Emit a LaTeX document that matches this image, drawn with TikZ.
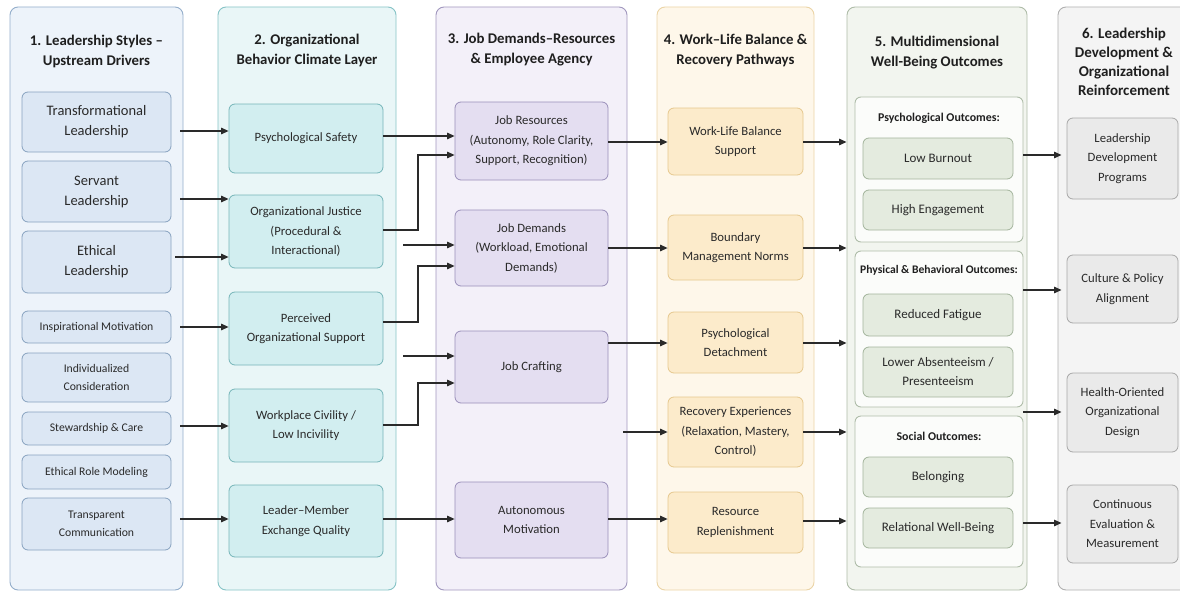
\documentclass[tikz,border=0pt]{standalone}
\usepackage{fontspec}
\setmainfont{Carlito}
\usetikzlibrary{arrows.meta}
\definecolor{txt}{HTML}{2A2A2A}
\definecolor{linec}{HTML}{2A2A2A}
\definecolor{p1f}{HTML}{EDF3FA}\definecolor{p1d}{HTML}{94AECB}
\definecolor{b1f}{HTML}{DCE7F4}\definecolor{b1d}{HTML}{87A2BF}
\definecolor{p2f}{HTML}{E9F6F7}\definecolor{p2d}{HTML}{86C3C6}
\definecolor{b2f}{HTML}{D2EEF0}\definecolor{b2d}{HTML}{75B5B8}
\definecolor{p3f}{HTML}{F3F0F9}\definecolor{p3d}{HTML}{A197BE}
\definecolor{b3f}{HTML}{E4DEF1}\definecolor{b3d}{HTML}{9A8FBA}
\definecolor{p4f}{HTML}{FEF7EA}\definecolor{p4d}{HTML}{EBD4A6}
\definecolor{b4f}{HTML}{FCEBCB}\definecolor{b4d}{HTML}{E6C88E}
\definecolor{p5f}{HTML}{F2F5EF}\definecolor{p5d}{HTML}{AEBCA8}
\definecolor{i5f}{HTML}{FBFCFA}\definecolor{i5d}{HTML}{AFBDA9}
\definecolor{b5f}{HTML}{E4EBDF}\definecolor{b5d}{HTML}{A3B49C}
\definecolor{p6f}{HTML}{F4F4F4}\definecolor{p6d}{HTML}{B0B0B0}
\definecolor{b6f}{HTML}{EAEAEA}\definecolor{b6d}{HTML}{A8A8A8}
\tikzset{
  panel/.style={rounded corners=8pt, line width=0.9pt, inner sep=0pt},
  box/.style={rounded corners=6pt, line width=0.8pt, inner sep=2pt, align=center, text=txt,
    font=\fontsize{12.7}{19.5}\selectfont},
  ttl/.style={align=center, text=black!88, font=\fontsize{14.8}{20}\selectfont\bfseries},
  hdr/.style={align=center, text=black!88, font=\fontsize{11.9}{13}\selectfont\bfseries},
  bx1/.style={box, fill=b1f, draw=b1d, minimum width=149},
  bx1big/.style={bx1, font=\fontsize{14.5}{20}\selectfont},
  bx1sm/.style={bx1, font=\fontsize{11.7}{17.5}\selectfont},
  bx2/.style={box, fill=b2f, draw=b2d, minimum width=154},
  bx3/.style={box, fill=b3f, draw=b3d, minimum width=153},
  bx4/.style={box, fill=b4f, draw=b4d, minimum width=135},
  bx5/.style={box, fill=b5f, draw=b5d, minimum width=150, font=\fontsize{13}{19}\selectfont},
  bx6/.style={box, fill=b6f, draw=b6d, minimum width=111},
  arr/.style={draw=linec, line width=1.15pt, -{Triangle[length=7.5pt,width=6.5pt]}},
}
\begin{document}
\begin{tikzpicture}[x=1pt,y=-1pt]
\useasboundingbox (0,0) rectangle (1180,594);
\clip (0,0) rectangle (1180,594);
% panels
\node[panel, fill=p1f, draw=p1d, minimum width=173, minimum height=583] (P1) at (96.5,298.5) {};
\node[panel, fill=p2f, draw=p2d, minimum width=178, minimum height=583] (P2) at (307,298.5) {};
\node[panel, fill=p3f, draw=p3d, minimum width=191, minimum height=583] (P3) at (531.5,298.5) {};
\node[panel, fill=p4f, draw=p4d, minimum width=157, minimum height=583] (P4) at (735.5,298.5) {};
\node[panel, fill=p5f, draw=p5d, minimum width=180, minimum height=583] (P5) at (937,298.5) {};
\node[panel, fill=p6f, draw=p6d, minimum width=130, minimum height=583] (P6) at (1123,298.5) {};
% titles
\node[ttl] (T1) at (96.5,51.5) {1. Leadership Styles –\\Upstream Drivers};
\node[ttl] (T2) at (307,50) {2. Organizational\\Behavior Climate Layer};
\node[ttl] (T3) at (531.5,50) {3. Job Demands–Resources\\\& Employee Agency};
\node[ttl] (T4) at (735.5,50.5) {4. Work–Life Balance \&\\Recovery Pathways};
\node[ttl] (T5) at (937,53) {5. Multidimensional\\Well-Being Outcomes};
\node[ttl, font=\fontsize{15}{19}\selectfont\bfseries] (T6) at (1124,62) {6. Leadership\\Development \&\\Organizational\\Reinforcement};
% column 1
\node[bx1big, minimum height=60] (TL) at (96.5,122) {Transformational\\Leadership};
\node[bx1big, minimum height=61] (SL) at (96.5,191.5) {Servant\\Leadership};
\node[bx1big, minimum height=62] (EL) at (96.5,262) {Ethical\\Leadership};
\node[bx1sm, minimum height=32] (IM) at (96.5,327) {Inspirational Motivation};
\node[bx1sm, minimum height=49] (IC) at (96.5,377.5) {Individualized\\Consideration};
\node[bx1sm, minimum height=33] (SC) at (96.5,428.5) {Stewardship \& Care};
\node[bx1sm, minimum height=34] (ERM) at (96.5,472) {Ethical Role Modeling};
\node[bx1sm, minimum height=52] (TC) at (96.5,524) {Transparent\\Communication};
% column 2
\node[bx2, minimum height=69] (PS) at (306,138.5) {Psychological Safety};
\node[bx2, minimum height=73] (OJ) at (306,231.5) {Organizational Justice\\(Procedural \&\\Interactional)};
\node[bx2, minimum height=73] (POS) at (306,328.5) {Perceived\\Organizational Support};
\node[bx2, minimum height=73] (WC) at (306,425.5) {Workplace Civility /\\Low Incivility};
\node[bx2, minimum height=72] (LMX) at (306,521) {Leader–Member\\Exchange Quality};
% column 3
\node[bx3, minimum height=78] (JR) at (531.5,141) {Job Resources\\(Autonomy, Role Clarity,\\Support, Recognition)};
\node[bx3, minimum height=76] (JD) at (531.5,248) {Job Demands\\(Workload, Emotional\\Demands)};
\node[bx3, minimum height=72] (JC) at (531.5,367) {Job Crafting};
\node[bx3, minimum height=76] (AM) at (531.5,520) {Autonomous\\Motivation};
% column 4
\node[bx4, minimum height=67] (WLB) at (735.5,141.5) {Work-Life Balance\\Support};
\node[bx4, minimum height=65] (BMN) at (735.5,247.5) {Boundary\\Management Norms};
\node[bx4, minimum height=61] (PD) at (735.5,342.5) {Psychological\\Detachment};
\node[bx4, minimum height=70] (RE) at (735.5,432) {Recovery Experiences\\(Relaxation, Mastery,\\Control)};
\node[bx4, minimum height=61] (RR) at (735.5,522.5) {Resource\\Replenishment};
% column 5
\node[panel, rounded corners=6pt, fill=i5f, draw=i5d, minimum width=168, minimum height=145] (PSO) at (939,169.5) {};
\node[panel, rounded corners=6pt, fill=i5f, draw=i5d, minimum width=168, minimum height=156] (PBO) at (939,329) {};
\node[panel, rounded corners=6pt, fill=i5f, draw=i5d, minimum width=168, minimum height=151] (SOO) at (939,491.5) {};
\node[hdr] (H1) at (939,118) {Psychological Outcomes:};
\node[hdr, font=\fontsize{11.6}{13}\selectfont\bfseries] (H2) at (939,270) {Physical \& Behavioral Outcomes:};
\node[hdr] (H3) at (939,436) {Social Outcomes:};
\node[bx5, minimum height=41] (LB) at (938,158.5) {Low Burnout};
\node[bx5, minimum height=40] (HE) at (938,210) {High Engagement};
\node[bx5, minimum height=42] (RF) at (938,315) {Reduced Fatigue};
\node[bx5, minimum height=50] (LA) at (938,372) {Lower Absenteeism /\\Presenteeism};
\node[bx5, minimum height=40] (BE) at (938,477) {Belonging};
\node[bx5, minimum height=40] (RW) at (938,528) {Relational Well-Being};
% column 6
\node[bx6, minimum height=81] (LDP) at (1122.5,158.5) {Leadership\\Development\\Programs};
\node[bx6, minimum height=68] (CPA) at (1122.5,289) {Culture \& Policy\\Alignment};
\node[bx6, minimum height=79] (HOD) at (1122.5,412.5) {Health-Oriented\\Organizational\\Design};
\node[bx6, minimum height=78] (CEM) at (1122.5,524) {Continuous\\Evaluation \&\\Measurement};
% free starts
\coordinate (s1) at (403,245);
\coordinate (s2) at (403,356);
\coordinate (s3) at (623,432);
% col1 -> col2
\draw[arr] ([xshift=-3pt]P1.east |- 0,131) -- (PS.west |- 0,131);
\draw[arr] ([xshift=-3pt]P1.east |- 0,199) -- (OJ.west |- 0,199);
\draw[arr] ([xshift=-8pt]P1.east |- 0,257) -- (OJ.west |- 0,257);
\draw[arr] ([xshift=-3pt]P1.east |- 0,327) -- (POS.west |- 0,327);
\draw[arr] ([xshift=-3pt]P1.east |- 0,426) -- (WC.west |- 0,426);
\draw[arr] ([xshift=-3pt]P1.east |- 0,519) -- (LMX.west |- 0,519);
% col2 -> col3
\draw[arr] (PS.east |- 0,136) -- (JR.west |- 0,136);
\draw[arr] (OJ.east |- 0,230) -- (418,230) -- (418,155) -- (JR.west |- 0,155);
\draw[arr] (s1) -- (JD.west |- s1);
\draw[arr] (POS.east |- 0,322) -- (418,322) -- (418,266) -- (JD.west |- 0,266);
\draw[arr] (s2) -- (JC.west |- s2);
\draw[arr] (WC.east |- 0,425) -- (418,425) -- (418,383) -- (JC.west |- 0,383);
\draw[arr] (LMX.east |- 0,519) -- (AM.west |- 0,519);
% col3 -> col4
\draw[arr] (JR.east |- 0,142) -- (WLB.west |- 0,142);
\draw[arr] (JD.east |- 0,248) -- (BMN.west |- 0,248);
\draw[arr] (JC.east |- 0,343) -- (PD.west |- 0,343);
\draw[arr] (s3) -- (RE.west |- s3);
\draw[arr] (AM.east |- 0,519) -- (RR.west |- 0,519);
% col4 -> col5
\draw[arr] (WLB.east |- 0,142) -- (P5.west |- 0,142);
\draw[arr] (BMN.east |- 0,248) -- (P5.west |- 0,248);
\draw[arr] (PD.east |- 0,343) -- (P5.west |- 0,343);
\draw[arr] (RE.east |- 0,432) -- (P5.west |- 0,432);
\draw[arr] (RR.east |- 0,521) -- (P5.west |- 0,521);
% col5 -> col6
\draw[arr] (PSO.east |- 0,155) -- ([xshift=4pt]P6.west |- 0,155);
\draw[arr] (PBO.east |- 0,290) -- ([xshift=4pt]P6.west |- 0,290);
\draw[arr] (PBO.east |- 0,412) -- ([xshift=4pt]P6.west |- 0,412);
\draw[arr] (SOO.east |- 0,523) -- ([xshift=4pt]P6.west |- 0,523);
\end{tikzpicture}
\end{document}
